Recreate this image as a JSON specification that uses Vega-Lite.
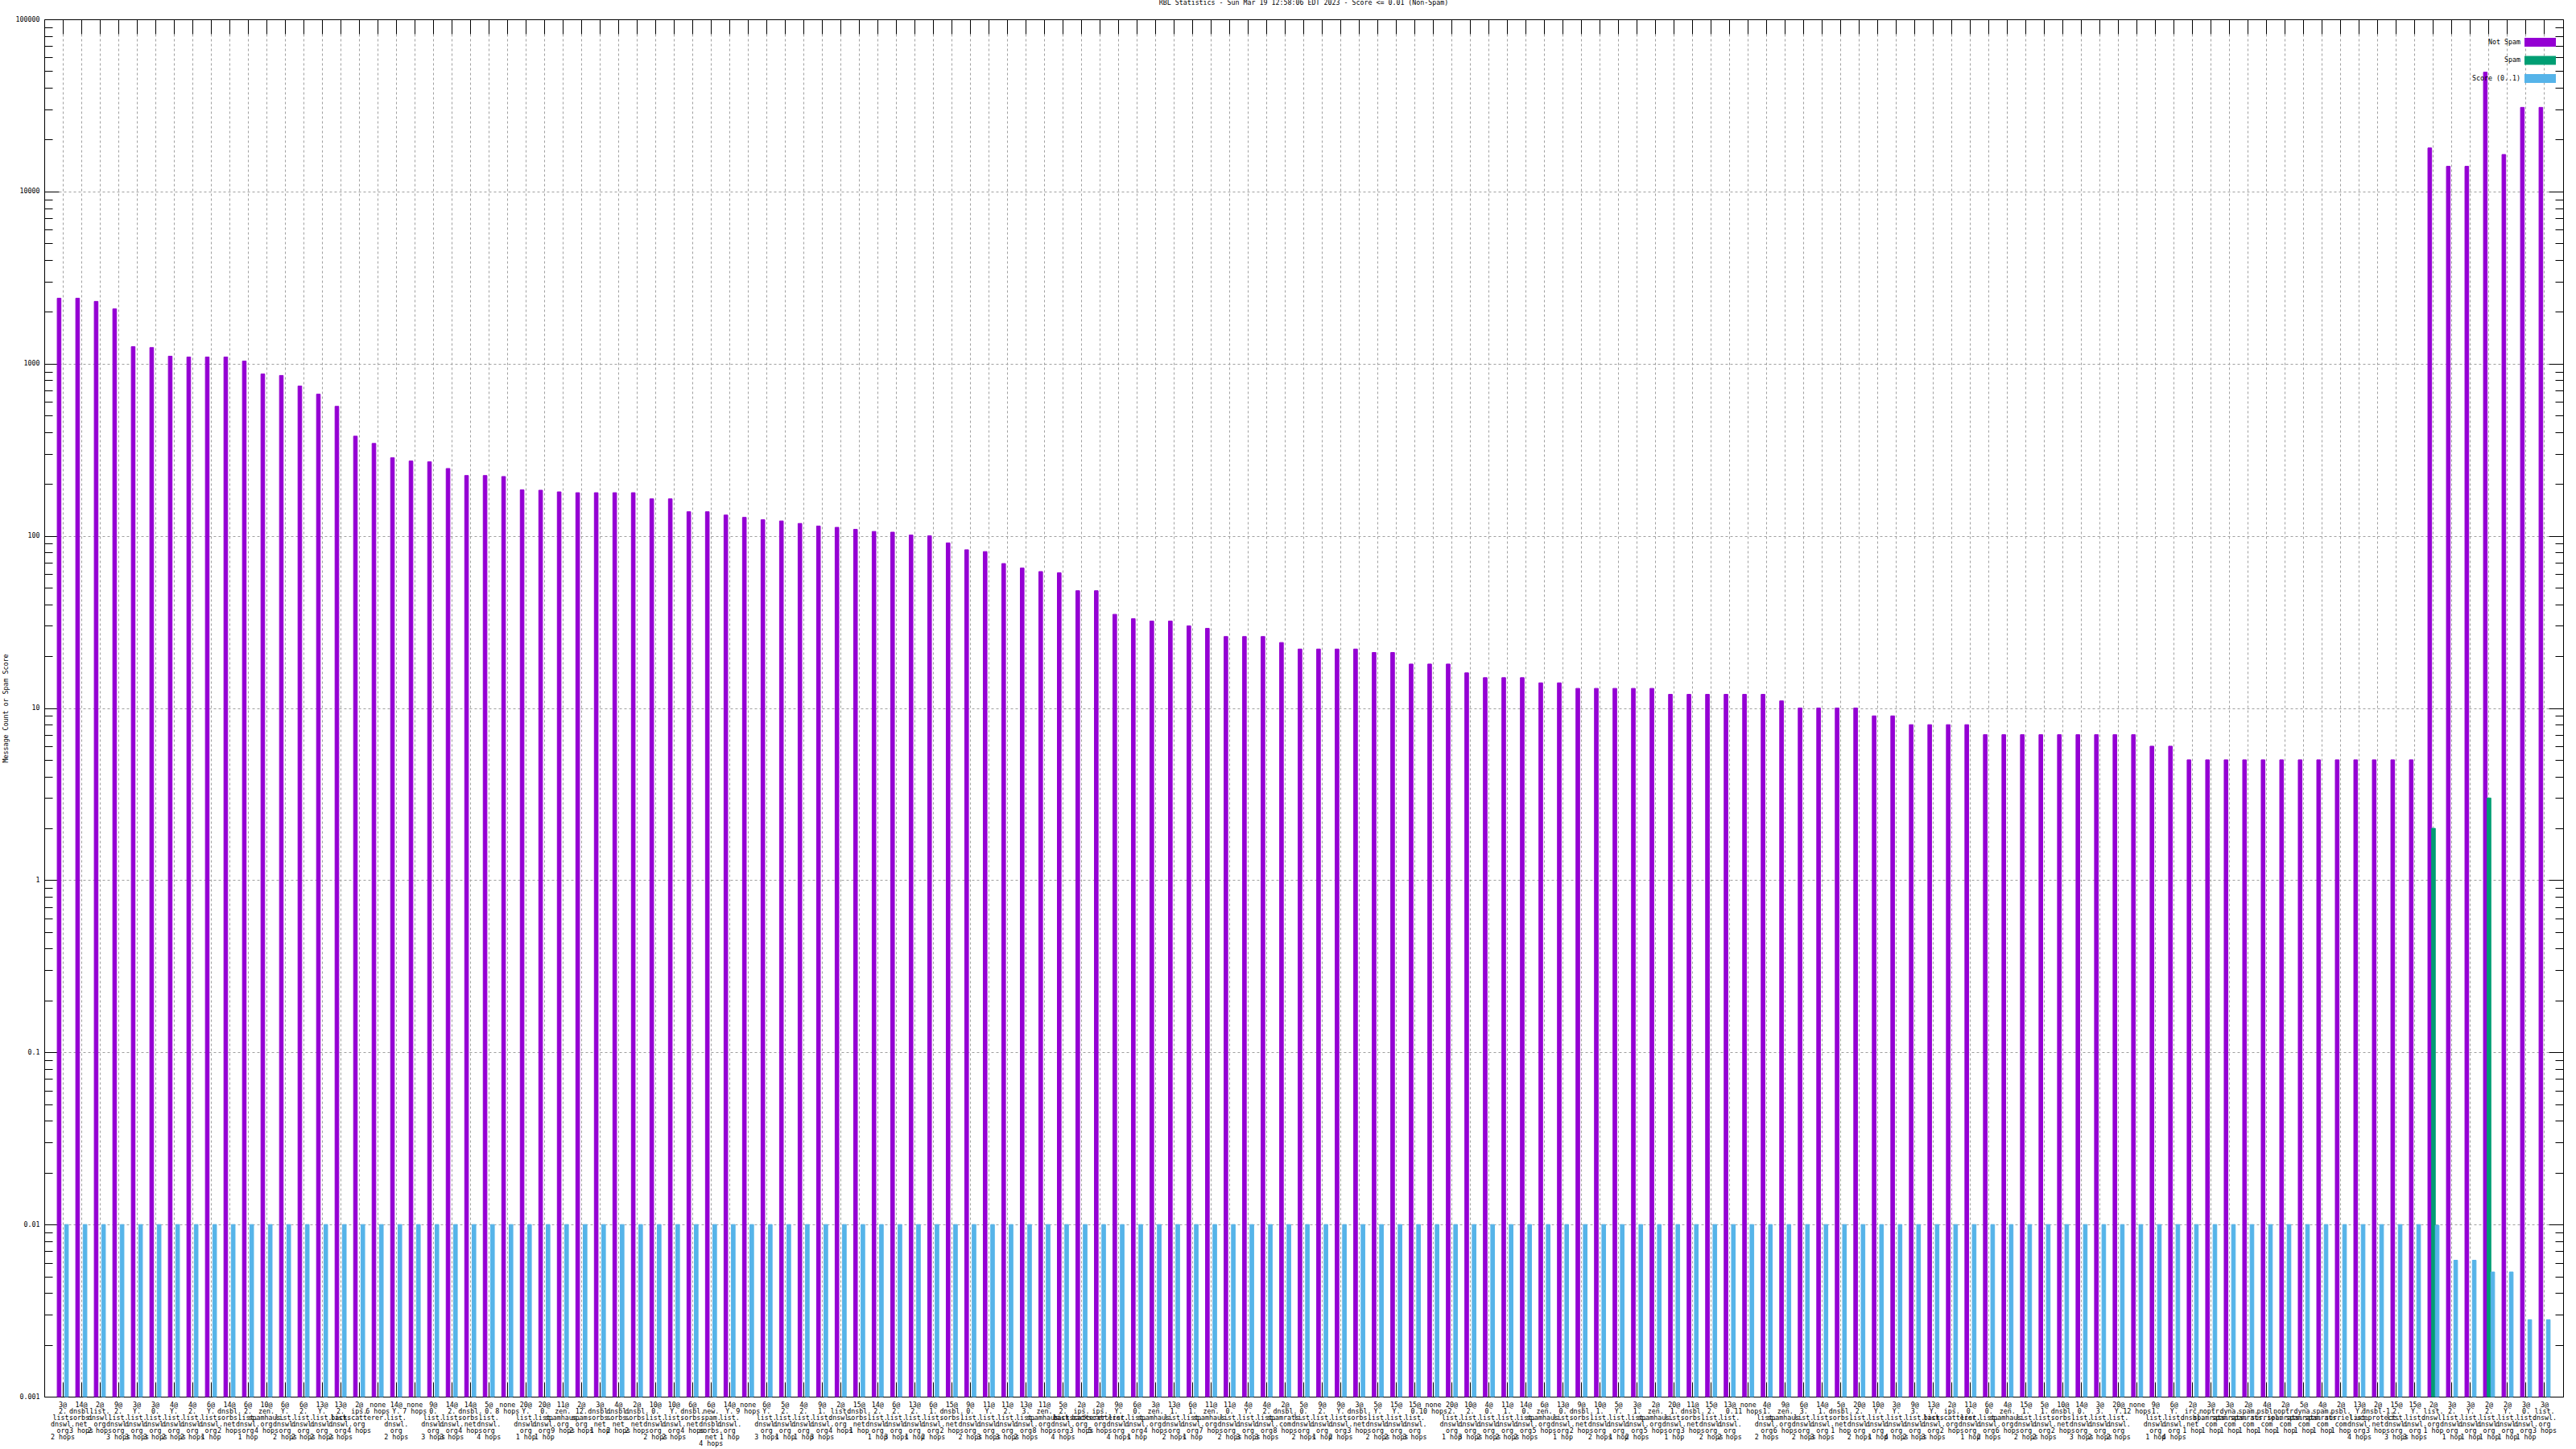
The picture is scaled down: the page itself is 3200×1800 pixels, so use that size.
{
"$schema": "https://vega.github.io/schema/vega-lite/v6.json",
"autosize": "none",
"width": 3129, "height": 1711,
"padding": {"left": 55, "top": 24, "right": 16, "bottom": 65},
"background": "white",
"title": {"text": "RBL Statistics - Sun Mar 19 12:58:06 EDT 2023 - Score <= 0.01 (Non-Spam)", "font": "DejaVu Sans Mono", "fontSize": 8.3, "fontWeight": "normal", "color": "black", "anchor": "middle", "offset": 5, "baseline": "alphabetic"},
"config": {"view": {"stroke": null}, "axis": {"domainColor": "black", "domainWidth": 1, "tickColor": "black", "tickWidth": 1, "labelColor": "black", "labelFont": "DejaVu Sans Mono", "labelFontSize": 8.3, "gridColor": "#a0a0a0", "gridDash": [3, 3], "gridWidth": 1}},
"data": {"values": [
{"n":"3@|2.|list.|dnswl.|org|2 hops","Not Spam":2400,"Score":0.01},
{"n":"14@|dnsbl.|sorbs.|net|3 hops","Not Spam":2400,"Score":0.01},
{"n":"2@|list.|dnswl.|org|2 hops","Not Spam":2300,"Score":0.01},
{"n":"9@|2.|list.|dnswl.|org|3 hops","Not Spam":2080,"Score":0.01},
{"n":"3@|Y.|list.|dnswl.|org|3 hops","Not Spam":1255,"Score":0.01},
{"n":"3@|0.|list.|dnswl.|org|3 hops","Not Spam":1240,"Score":0.01},
{"n":"4@|Y.|list.|dnswl.|org|2 hops","Not Spam":1105,"Score":0.01},
{"n":"4@|2.|list.|dnswl.|org|2 hops","Not Spam":1093,"Score":0.01},
{"n":"6@|Y.|list.|dnswl.|org|1 hop","Not Spam":1093,"Score":0.01},
{"n":"14@|dnsbl.|sorbs.|net|2 hops","Not Spam":1093,"Score":0.01},
{"n":"6@|2.|list.|dnswl.|org|1 hop","Not Spam":1035,"Score":0.01},
{"n":"10@|zen.|spamhaus.|org|4 hops","Not Spam":871,"Score":0.01},
{"n":"6@|Y.|list.|dnswl.|org|2 hops","Not Spam":854,"Score":0.01},
{"n":"6@|2.|list.|dnswl.|org|2 hops","Not Spam":741,"Score":0.01},
{"n":"13@|Y.|list.|dnswl.|org|2 hops","Not Spam":665,"Score":0.01},
{"n":"13@|2.|list.|dnswl.|org|2 hops","Not Spam":565,"Score":0.01},
{"n":"2@|ips.|backscatterer.|org|4 hops","Not Spam":379,"Score":0.01},
{"n":"none|6 hops","Not Spam":344,"Score":0.01},
{"n":"14@|Y.|list.|dnswl.|org|2 hops","Not Spam":284,"Score":0.01},
{"n":"none|7 hops","Not Spam":272,"Score":0.01},
{"n":"9@|0.|list.|dnswl.|org|3 hops","Not Spam":269,"Score":0.01},
{"n":"14@|2.|list.|dnswl.|org|3 hops","Not Spam":246,"Score":0.01},
{"n":"14@|dnsbl.|sorbs.|net|4 hops","Not Spam":224,"Score":0.01},
{"n":"5@|0.|list.|dnswl.|org|4 hops","Not Spam":224,"Score":0.01},
{"n":"none|8 hops","Not Spam":221,"Score":0.01},
{"n":"20@|Y.|list.|dnswl.|org|1 hop","Not Spam":185,"Score":0.01},
{"n":"20@|0.|list.|dnswl.|org|1 hop","Not Spam":184,"Score":0.01},
{"n":"11@|zen.|spamhaus.|org|9 hops","Not Spam":180,"Score":0.01},
{"n":"2@|12.|spam.|org|2 hops","Not Spam":178,"Score":0.01},
{"n":"3@|dnsbl.|sorbs.|net|1 hop","Not Spam":178,"Score":0.01},
{"n":"4@|dnsbl.|sorbs.|net|2 hops","Not Spam":178,"Score":0.01},
{"n":"2@|dnsbl.|sorbs.|net|2 hops","Not Spam":178,"Score":0.01},
{"n":"10@|0.|list.|dnswl.|org|2 hops","Not Spam":164,"Score":0.01},
{"n":"10@|Y.|list.|dnswl.|org|2 hops","Not Spam":164,"Score":0.01},
{"n":"6@|dnsbl.|sorbs.|net|4 hops","Not Spam":138,"Score":0.01},
{"n":"6@|new.|spam.|dnsbl.|sorbs.|net|4 hops","Not Spam":138,"Score":0.01},
{"n":"14@|Y.|list.|dnswl.|org|1 hop","Not Spam":132,"Score":0.01},
{"n":"none|9 hops","Not Spam":128,"Score":0.01},
{"n":"6@|Y.|list.|dnswl.|org|3 hops","Not Spam":124,"Score":0.01},
{"n":"5@|2.|list.|dnswl.|org|1 hop","Not Spam":122,"Score":0.01},
{"n":"4@|2.|list.|dnswl.|org|1 hop","Not Spam":118,"Score":0.01},
{"n":"9@|1.|list.|dnswl.|org|3 hops","Not Spam":114,"Score":0.01},
{"n":"2@|list.|dnswl.|org|4 hops","Not Spam":112,"Score":0.01},
{"n":"15@|dnsbl.|sorbs.|net|1 hop","Not Spam":109,"Score":0.01},
{"n":"14@|2.|list.|dnswl.|org|1 hop","Not Spam":106,"Score":0.01},
{"n":"6@|2.|list.|dnswl.|org|3 hops","Not Spam":105,"Score":0.01},
{"n":"13@|2.|list.|dnswl.|org|1 hop","Not Spam":101,"Score":0.01},
{"n":"6@|1.|list.|dnswl.|org|2 hops","Not Spam":100,"Score":0.01},
{"n":"15@|dnsbl.|sorbs.|net|2 hops","Not Spam":91,"Score":0.01},
{"n":"9@|0.|list.|dnswl.|org|2 hops","Not Spam":83,"Score":0.01},
{"n":"11@|Y.|list.|dnswl.|org|3 hops","Not Spam":81,"Score":0.01},
{"n":"11@|2.|list.|dnswl.|org|3 hops","Not Spam":69,"Score":0.01},
{"n":"13@|3.|list.|dnswl.|org|2 hops","Not Spam":65,"Score":0.01},
{"n":"11@|zen.|spamhaus.|org|8 hops","Not Spam":62,"Score":0.01},
{"n":"5@|2.|list.|dnswl.|org|4 hops","Not Spam":61,"Score":0.01},
{"n":"2@|ips.|backscatterer.|org|3 hops","Not Spam":48,"Score":0.01},
{"n":"2@|ips.|backscatterer.|org|5 hops","Not Spam":48,"Score":0.01},
{"n":"9@|Y.|list.|dnswl.|org|4 hops","Not Spam":35,"Score":0.01},
{"n":"6@|0.|list.|dnswl.|org|1 hop","Not Spam":33,"Score":0.01},
{"n":"3@|zen.|spamhaus.|org|4 hops","Not Spam":32,"Score":0.01},
{"n":"13@|1.|list.|dnswl.|org|2 hops","Not Spam":32,"Score":0.01},
{"n":"6@|1.|list.|dnswl.|org|1 hop","Not Spam":30,"Score":0.01},
{"n":"11@|zen.|spamhaus.|org|7 hops","Not Spam":29,"Score":0.01},
{"n":"11@|0.|list.|dnswl.|org|2 hops","Not Spam":26,"Score":0.01},
{"n":"4@|Y.|list.|dnswl.|org|3 hops","Not Spam":26,"Score":0.01},
{"n":"4@|2.|list.|dnswl.|org|3 hops","Not Spam":26,"Score":0.01},
{"n":"2@|dnsbl.|spamrats.|com|8 hops","Not Spam":24,"Score":0.01},
{"n":"5@|0.|list.|dnswl.|org|2 hops","Not Spam":22,"Score":0.01},
{"n":"9@|2.|list.|dnswl.|org|1 hop","Not Spam":22,"Score":0.01},
{"n":"9@|Y.|list.|dnswl.|org|2 hops","Not Spam":22,"Score":0.01},
{"n":"3@|dnsbl.|sorbs.|net|3 hops","Not Spam":22,"Score":0.01},
{"n":"5@|Y.|list.|dnswl.|org|2 hops","Not Spam":21,"Score":0.01},
{"n":"15@|Y.|list.|dnswl.|org|2 hops","Not Spam":21,"Score":0.01},
{"n":"15@|0.|list.|dnswl.|org|3 hops","Not Spam":18,"Score":0.01},
{"n":"none|10 hops","Not Spam":18,"Score":0.01},
{"n":"20@|2.|list.|dnswl.|org|1 hop","Not Spam":18,"Score":0.01},
{"n":"10@|2.|list.|dnswl.|org|3 hops","Not Spam":16,"Score":0.01},
{"n":"4@|0.|list.|dnswl.|org|2 hops","Not Spam":15,"Score":0.01},
{"n":"11@|1.|list.|dnswl.|org|2 hops","Not Spam":15,"Score":0.01},
{"n":"14@|0.|list.|dnswl.|org|2 hops","Not Spam":15,"Score":0.01},
{"n":"6@|zen.|spamhaus.|org|5 hops","Not Spam":14,"Score":0.01},
{"n":"13@|0.|list.|dnswl.|org|1 hop","Not Spam":14,"Score":0.01},
{"n":"9@|dnsbl.|sorbs.|net|2 hops","Not Spam":13,"Score":0.01},
{"n":"10@|1.|list.|dnswl.|org|2 hops","Not Spam":13,"Score":0.01},
{"n":"5@|Y.|list.|dnswl.|org|1 hop","Not Spam":13,"Score":0.01},
{"n":"3@|1.|list.|dnswl.|org|2 hops","Not Spam":13,"Score":0.01},
{"n":"2@|zen.|spamhaus.|org|5 hops","Not Spam":13,"Score":0.01},
{"n":"20@|1.|list.|dnswl.|org|1 hop","Not Spam":12,"Score":0.01},
{"n":"11@|dnsbl.|sorbs.|net|3 hops","Not Spam":12,"Score":0.01},
{"n":"15@|2.|list.|dnswl.|org|2 hops","Not Spam":12,"Score":0.01},
{"n":"13@|0.|list.|dnswl.|org|2 hops","Not Spam":12,"Score":0.01},
{"n":"none|11 hops","Not Spam":12,"Score":0.01},
{"n":"4@|1.|list.|dnswl.|org|2 hops","Not Spam":12,"Score":0.01},
{"n":"9@|zen.|spamhaus.|org|6 hops","Not Spam":11,"Score":0.01},
{"n":"6@|3.|list.|dnswl.|org|2 hops","Not Spam":10,"Score":0.01},
{"n":"14@|1.|list.|dnswl.|org|3 hops","Not Spam":10,"Score":0.01},
{"n":"5@|dnsbl.|sorbs.|net|1 hop","Not Spam":10,"Score":0.01},
{"n":"20@|2.|list.|dnswl.|org|2 hops","Not Spam":10,"Score":0.01},
{"n":"10@|Y.|list.|dnswl.|org|1 hop","Not Spam":9,"Score":0.01},
{"n":"3@|Y.|list.|dnswl.|org|4 hops","Not Spam":9,"Score":0.01},
{"n":"9@|3.|list.|dnswl.|org|2 hops","Not Spam":8,"Score":0.01},
{"n":"13@|Y.|list.|dnswl.|org|3 hops","Not Spam":8,"Score":0.01},
{"n":"2@|ips.|backscatterer.|org|2 hops","Not Spam":8,"Score":0.01},
{"n":"11@|0.|list.|dnswl.|org|1 hop","Not Spam":8,"Score":0.01},
{"n":"6@|0.|list.|dnswl.|org|2 hops","Not Spam":7,"Score":0.01},
{"n":"4@|zen.|spamhaus.|org|6 hops","Not Spam":7,"Score":0.01},
{"n":"15@|1.|list.|dnswl.|org|2 hops","Not Spam":7,"Score":0.01},
{"n":"5@|1.|list.|dnswl.|org|2 hops","Not Spam":7,"Score":0.01},
{"n":"10@|dnsbl.|sorbs.|net|2 hops","Not Spam":7,"Score":0.01},
{"n":"14@|0.|list.|dnswl.|org|3 hops","Not Spam":7,"Score":0.01},
{"n":"3@|3.|list.|dnswl.|org|2 hops","Not Spam":7,"Score":0.01},
{"n":"20@|Y.|list.|dnswl.|org|2 hops","Not Spam":7,"Score":0.01},
{"n":"none|12 hops","Not Spam":7,"Score":0.01},
{"n":"9@|1.|list.|dnswl.|org|1 hop","Not Spam":6,"Score":0.01},
{"n":"6@|Y.|list.|dnswl.|org|4 hops","Not Spam":6,"Score":0.01},
{"n":"2@|irc.|dnsbl.|net|1 hop","Not Spam":5,"Score":0.01},
{"n":"3@|noptr.|spamrats.|com|1 hop","Not Spam":5,"Score":0.01},
{"n":"3@|dyna.|spamrats.|com|1 hop","Not Spam":5,"Score":0.01},
{"n":"2@|spam.|spamrats.|com|1 hop","Not Spam":5,"Score":0.01},
{"n":"4@|psbl.|surriel.|com|1 hop","Not Spam":5,"Score":0.01},
{"n":"2@|noptr.|spamrats.|com|1 hop","Not Spam":5,"Score":0.01},
{"n":"5@|dyna.|spamrats.|com|1 hop","Not Spam":5,"Score":0.01},
{"n":"4@|spam.|spamrats.|com|1 hop","Not Spam":5,"Score":0.01},
{"n":"2@|psbl.|surriel.|com|1 hop","Not Spam":5,"Score":0.01},
{"n":"13@|Y.|list.|dnswl.|org|4 hops","Not Spam":5,"Score":0.01},
{"n":"2@|dnsbl-1.|uceprotect.|net|3 hops","Not Spam":5,"Score":0.01},
{"n":"15@|2.|list.|dnswl.|org|3 hops","Not Spam":5,"Score":0.01},
{"n":"15@|Y.|list.|dnswl.|org|3 hops","Not Spam":5,"Score":0.01},
{"n":"2@|list.|dnswl.|org|1 hop","Not Spam":17900,"Spam":2,"Score":0.0099},
{"n":"3@|2.|list.|dnswl.|org|1 hop","Not Spam":14000,"Score":0.0062},
{"n":"3@|Y.|list.|dnswl.|org|1 hop","Not Spam":14000,"Score":0.0062},
{"n":"2@|2.|list.|dnswl.|org|1 hop","Not Spam":49300,"Spam":3,"Score":0.0053},
{"n":"2@|Y.|list.|dnswl.|org|1 hop","Not Spam":16400,"Score":0.0053},
{"n":"3@|0.|list.|dnswl.|org|1 hop","Not Spam":30800,"Score":0.0028},
{"n":"3@|list.|dnswl.|org|3 hops","Not Spam":30800,"Score":0.0028}
]},
"transform": [
  {"fold": ["Not Spam", "Spam", "Score"], "as": ["key", "value"]},
  {"filter": "datum.value > 0"}
],
"layer": [
  {
    "mark": {"type": "bar", "strokeWidth": 1},
    "encoding": {
      "x": {"field": "n", "type": "nominal", "sort": null, "scale": {"paddingInner": 0.4, "paddingOuter": 0.7},
        "axis": {"orient": "bottom", "title": null, "labelExpr": "split(datum.value, '|')", "labelAngle": 0, "labelAlign": "center", "labelBaseline": "top", "labelLineHeight": 8.1, "labelPadding": 23, "labelOverlap": false, "labelBound": false, "labelFlush": false, "labelLimit": 0, "tickSize": -18, "grid": true}},
      "xOffset": {"field": "key", "type": "nominal", "scale": {"domain": ["Not Spam", "Spam", "Score"], "paddingInner": 0, "paddingOuter": 0}},
      "y": {"field": "value", "type": "quantitative", "scale": {"type": "log", "domain": [0.001, 100000], "nice": false},
        "axis": {"orient": "left",
          "values": [0.001,0.002,0.003,0.004,0.005,0.006,0.007,0.008,0.009,0.01,0.02,0.03,0.04,0.05,0.06,0.07,0.08,0.09,0.1,0.2,0.3,0.4,0.5,0.6,0.7,0.8,0.9,1,2,3,4,5,6,7,8,9,10,20,30,40,50,60,70,80,90,100,200,300,400,500,600,700,800,900,1000,2000,3000,4000,5000,6000,7000,8000,9000,10000,20000,30000,40000,50000,60000,70000,80000,90000,100000],
          "format": "~g",
          "labelExpr": "abs(log(datum.value)/LN10 - round(log(datum.value)/LN10)) < 0.01 ? datum.label : ''",
          "labelPadding": 24, "labelBaseline": "middle", "labelBound": false, "labelFlush": false, "labelOverlap": false,
          "tickSize": {"condition": {"test": "abs(log(datum.value)/LN10 - round(log(datum.value)/LN10)) < 0.01", "value": -18}, "value": -10},
          "grid": true,
          "gridOpacity": {"condition": {"test": "abs(log(datum.value)/LN10 - round(log(datum.value)/LN10)) < 0.01", "value": 1}, "value": 0},
          "title": "Message Count or Spam Score", "titleFont": "DejaVu Sans Mono", "titleFontSize": 8.3, "titleFontWeight": "normal", "titleColor": "black",
          "titleX": -48, "titleY": 855.5, "titleAngle": -90, "titleAlign": "center", "titleBaseline": "middle"}},
      "y2": {"datum": 0.001},
      "color": {"field": "key", "type": "nominal", "scale": {"domain": ["Not Spam", "Spam", "Score"], "range": ["#9400d3", "#009e73", "#56b4e9"]},
        "legend": {"orient": "none", "legendX": 3095, "legendY": 23, "title": null, "direction": "vertical",
          "symbolType": "M-3.545,-1L3.545,-1L3.545,1L-3.545,1Z", "symbolSize": 121, "symbolStrokeWidth": 0, "symbolOpacity": 1,
          "labelAlign": "right", "labelOffset": -30, "labelFont": "DejaVu Sans Mono", "labelFontSize": 8.3, "labelColor": "black", "labelLimit": 0,
          "rowPadding": 11.5, "padding": 0,
          "labelExpr": "datum.label == 'Score' ? 'Score (0..1)' : datum.label"}},
      "stroke": {"field": "key", "type": "nominal", "scale": {"domain": ["Not Spam", "Spam", "Score"], "range": ["#9400d3", "#009e73", "#56b4e9"]}, "legend": null}
    }
  },
  {
    "mark": {"type": "point", "opacity": 0},
    "encoding": {
      "x": {"field": "n", "type": "nominal", "sort": null,
        "axis": {"orient": "top", "title": null, "labels": false, "tickSize": -18, "grid": false}},
      "y": {"field": "value", "type": "quantitative",
        "axis": {"orient": "right", "title": null, "labels": false, "grid": false,
          "values": [0.001,0.002,0.003,0.004,0.005,0.006,0.007,0.008,0.009,0.01,0.02,0.03,0.04,0.05,0.06,0.07,0.08,0.09,0.1,0.2,0.3,0.4,0.5,0.6,0.7,0.8,0.9,1,2,3,4,5,6,7,8,9,10,20,30,40,50,60,70,80,90,100,200,300,400,500,600,700,800,900,1000,2000,3000,4000,5000,6000,7000,8000,9000,10000,20000,30000,40000,50000,60000,70000,80000,90000,100000],
          "tickSize": {"condition": {"test": "abs(log(datum.value)/LN10 - round(log(datum.value)/LN10)) < 0.01", "value": -18}, "value": -10}}}
    }
  }
],
"resolve": {"axis": {"x": "independent", "y": "independent"}}
}
